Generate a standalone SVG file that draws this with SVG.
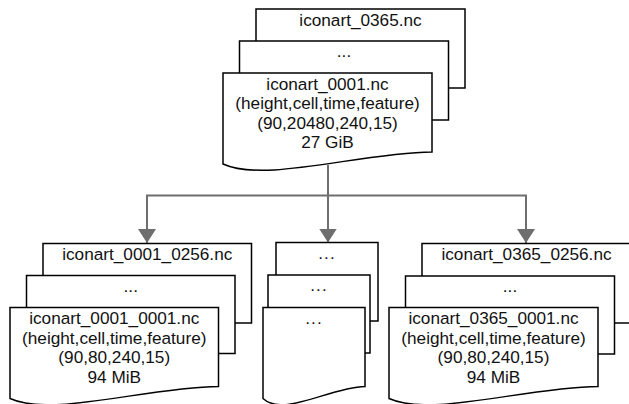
<svg xmlns="http://www.w3.org/2000/svg" width="629" height="404" viewBox="0 0 629 404">
  <defs>
    <style>
      .box { fill: #ffffff; stroke: #000000; stroke-width: 1.5; }
      .t { font-family: "Liberation Sans", Arial, sans-serif; font-size: 17.2px; fill: #111111; text-anchor: middle; }
      .edge { fill: none; stroke: #6e6e6e; stroke-width: 2; }
    </style>
    <marker id="arrow" markerUnits="userSpaceOnUse" markerWidth="16" markerHeight="20" viewBox="0 0 16 20" refX="14" refY="9" orient="auto">
      <path d="M0,0 L14,9 L0,18 Z" fill="#6e6e6e"/>
    </marker>
  </defs>
  <rect width="629" height="404" fill="#ffffff"/>

  <g id="connectors">
    <path class="edge" d="M328,165 V195.5 H147 V243" marker-end="url(#arrow)"/>
    <path class="edge" d="M328,165 V242.5" marker-end="url(#arrow)"/>
    <path class="edge" d="M328,165 V195.5 H526 V243" marker-end="url(#arrow)"/>
  </g>

  <g id="top-0365">
    <rect class="box" x="256" y="9" width="209" height="79"/>
    <text class="t" x="360.5" y="25.5">iconart_0365.nc</text>
  </g>
  <g id="top-dots">
    <rect class="box" x="239.5" y="41" width="209" height="79"/>
    <text class="t" x="344" y="57">...</text>
  </g>
  <g id="top-0001">
    <path class="box" d="M223,73 H432 V152 C358.85,153 264.8,183 223,164 Z"/>
    <text class="t" x="327.5" y="89.5">iconart_0001.nc</text>
    <text class="t" x="327.5" y="109">(height,cell,time,feature)</text>
    <text class="t" x="327.5" y="128.5">(90,20480,240,15)</text>
    <text class="t" x="327.5" y="148">27 GiB</text>
  </g>

  <g id="left-0256">
    <rect class="box" x="43" y="243.5" width="208.5" height="79.5"/>
    <text class="t" x="147.25" y="260">iconart_0001_0256.nc</text>
  </g>
  <g id="left-dots">
    <rect class="box" x="26.5" y="275.5" width="208.5" height="78"/>
    <text class="t" x="130.75" y="291.5">...</text>
  </g>
  <g id="left-0001">
    <path class="box" d="M10,307.5 H218.5 V386.5 C145.5,387.5 51.7,417.5 10,398.5 Z"/>
    <text class="t" x="114.25" y="324">iconart_0001_0001.nc</text>
    <text class="t" x="114.25" y="343.5">(height,cell,time,feature)</text>
    <text class="t" x="114.25" y="363">(90,80,240,15)</text>
    <text class="t" x="114.25" y="382.5">94 MiB</text>
  </g>

  <g id="mid-back">
    <rect class="box" x="276" y="242.5" width="102" height="78.5"/>
    <text class="t" x="327" y="258.5" letter-spacing="1">...</text>
  </g>
  <g id="mid-middle">
    <rect class="box" x="268" y="275" width="102" height="78"/>
    <text class="t" x="319" y="291" letter-spacing="1">...</text>
  </g>
  <g id="mid-front">
    <path class="box" d="M263,307.5 H365 V386.5 C329.3,387.5 283.4,417.5 263,398.5 Z"/>
    <text class="t" x="314" y="323.5" letter-spacing="1">...</text>
  </g>

  <g id="right-0256">
    <rect class="box" x="422" y="243.5" width="209" height="79.5"/>
    <text class="t" x="526.5" y="260">iconart_0365_0256.nc</text>
  </g>
  <g id="right-dots">
    <rect class="box" x="405.5" y="276" width="209" height="78"/>
    <text class="t" x="510" y="291.5">...</text>
  </g>
  <g id="right-0001">
    <path class="box" d="M389,307.5 H598 V386.5 C524.85,387.5 430.8,417.5 389,398.5 Z"/>
    <text class="t" x="493.5" y="324">iconart_0365_0001.nc</text>
    <text class="t" x="493.5" y="343.5">(height,cell,time,feature)</text>
    <text class="t" x="493.5" y="363">(90,80,240,15)</text>
    <text class="t" x="493.5" y="382.5">94 MiB</text>
  </g>
</svg>
